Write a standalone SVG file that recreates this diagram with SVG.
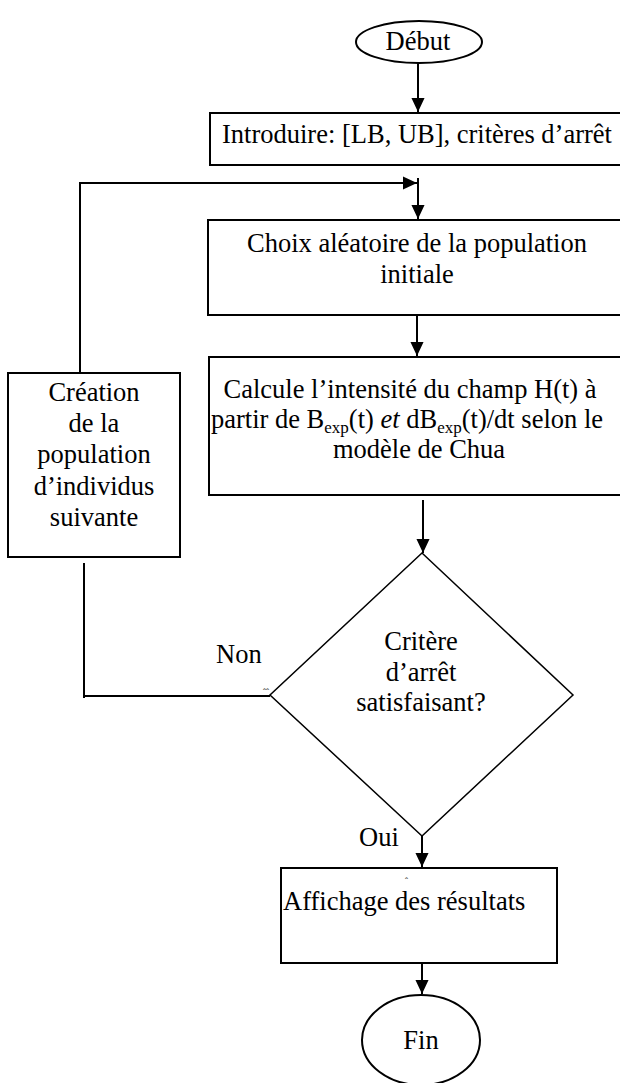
<svg xmlns="http://www.w3.org/2000/svg" width="620" height="1083" viewBox="0 0 620 1083">
<style>
  .t { font-family: "Liberation Serif", "Times New Roman", serif; font-size: 26.5px; fill: #000; }
  .box { fill: #fff; stroke: #000; stroke-width: 2; }
  .ln { fill: none; stroke: #000; stroke-width: 2; }
  .thin { fill: none; stroke: #000; stroke-width: 1.5; }
  .mark { font-family: "Liberation Serif", serif; font-size: 9px; fill: #000; }
</style>
<defs>
  <marker id="ah" markerUnits="userSpaceOnUse" markerWidth="14" markerHeight="16" refX="15" refY="7" orient="auto" viewBox="0 0 15 14">
    <path d="M0,0 L15,7 L0,14 Z" fill="#000"/>
  </marker>
</defs>
<rect width="620" height="1083" fill="#fff"/>

<g id="connectors">
  <line class="ln" x1="418" y1="63" x2="418" y2="112" marker-end="url(#ah)"/>
  <line class="ln" x1="418" y1="178" x2="418" y2="219" marker-end="url(#ah)"/>
  <polyline class="ln" points="80,372 80,183 417,183" marker-end="url(#ah)"/>
  <line class="ln" x1="417" y1="315" x2="417" y2="356" marker-end="url(#ah)"/>
  <line class="ln" x1="423" y1="500" x2="423" y2="553" marker-end="url(#ah)"/>
  <polyline class="ln" points="84,563 84,698"/>
  <line class="ln" x1="84" y1="696" x2="270" y2="696"/>
  <line class="ln" x1="422" y1="835" x2="422" y2="867" marker-end="url(#ah)"/>
  <line class="ln" x1="422" y1="963" x2="422" y2="994" marker-end="url(#ah)"/>
  <text class="t" x="216" y="663">Non</text>
  <text class="t" x="359" y="846">Oui</text>
  <text class="mark" x="263" y="695">ˆˆ</text>
</g>

<g id="debut">
  <ellipse class="box" cx="419" cy="42" rx="63" ry="21"/>
  <text class="t" x="418" y="50" text-anchor="middle">Début</text>
</g>

<g id="introduire">
  <rect class="box" x="210" y="113" width="430" height="52"/>
  <text class="t" x="222" y="143">Introduire: [LB, UB], critères d’arrêt</text>
</g>

<g id="choix">
  <rect class="box" x="208" y="220" width="430" height="95"/>
  <text class="t" x="417" y="252" text-anchor="middle">Choix aléatoire de la population</text>
  <text class="t" x="417" y="283" text-anchor="middle">initiale</text>
</g>

<g id="calcul">
  <rect class="box" x="209" y="357" width="430" height="138"/>
  <text class="t" x="410" y="398" text-anchor="middle">Calcule l’intensité du champ H(t) à</text>
  <text class="t" x="407" y="428" text-anchor="middle">partir de B<tspan font-size="17" dy="5">exp</tspan><tspan dy="-5">(t) </tspan><tspan font-style="italic">et</tspan> dB<tspan font-size="17" dy="5">exp</tspan><tspan dy="-5">(t)/dt selon le</tspan></text>
  <text class="t" x="419" y="458" text-anchor="middle">modèle de Chua</text>
</g>

<g id="creation">
  <rect class="box" x="8" y="373" width="172" height="184"/>
  <text class="t" x="94" y="401" text-anchor="middle">Création</text>
  <text class="t" x="94" y="432" text-anchor="middle">de la</text>
  <text class="t" x="94" y="463" text-anchor="middle">population</text>
  <text class="t" x="94" y="495" text-anchor="middle">d’individus</text>
  <text class="t" x="94" y="526" text-anchor="middle">suivante</text>
</g>

<g id="critere">
  <polygon class="thin" points="422,553 573,695 422,836 270,695" fill="#fff"/>
  <text class="t" x="421" y="650" text-anchor="middle">Critère</text>
  <text class="t" x="421" y="681" text-anchor="middle">d’arrêt</text>
  <text class="t" x="421" y="711" text-anchor="middle">satisfaisant?</text>
</g>

<g id="affichage">
  <rect class="box" x="281" y="868" width="276" height="95"/>
  <text class="mark" x="405" y="884">ˆ</text>
  <text class="t" x="283" y="910">Affichage des résultats</text>
</g>

<g id="fin">
  <ellipse class="box" cx="421" cy="1040" rx="59" ry="45"/>
  <text class="t" x="421" y="1049" text-anchor="middle">Fin</text>
</g>
</svg>
